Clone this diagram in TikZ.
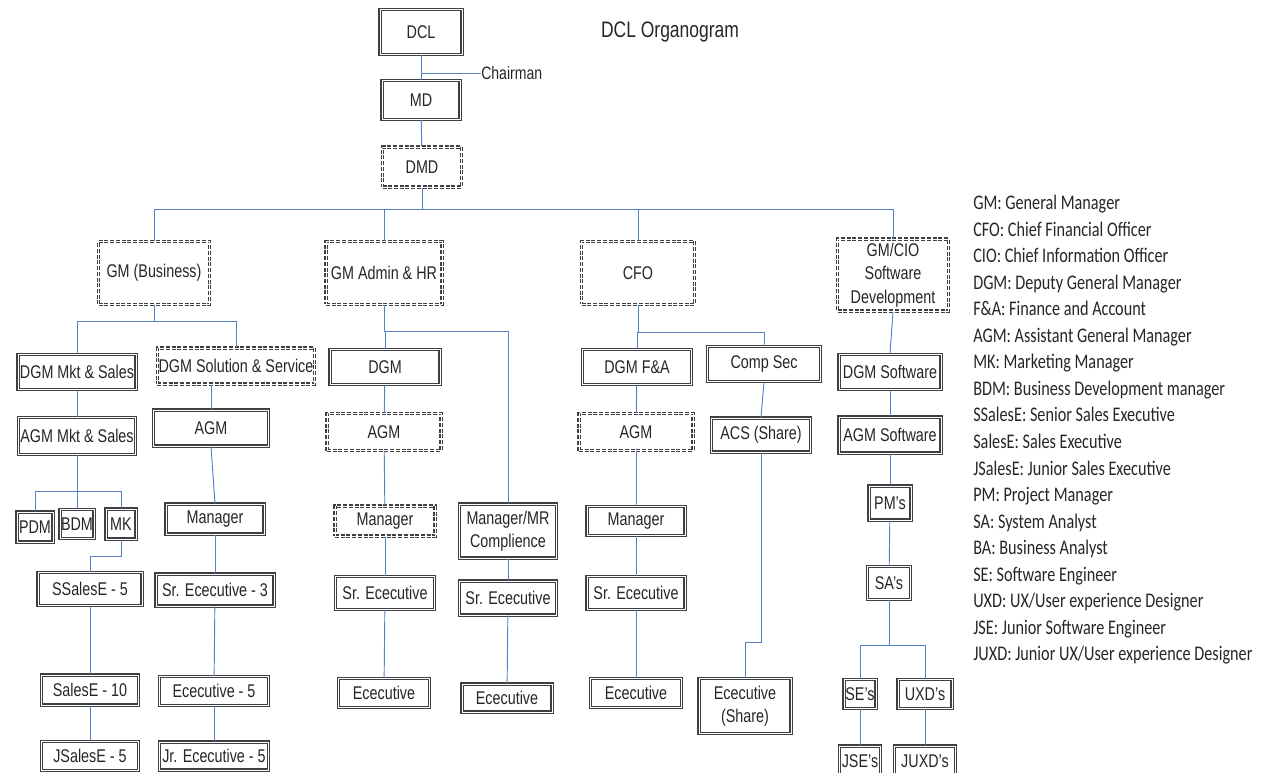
\documentclass[tikz,border=0pt]{standalone}
\usepackage{fontspec}
\setmainfont{Liberation Sans}
\newfontfamily\boxfont[FakeStretch=0.78]{Liberation Sans}
\newfontfamily\notefont[FakeStretch=0.78]{Carlito}
\definecolor{linkblue}{RGB}{84,128,200}
\begin{document}
\begin{tikzpicture}[x=0.75pt,y=-0.75pt,
  sbox/.style={draw=black!75,line width=1.05pt,double=white,double distance=0.35pt,fill=white,
    font=\boxfont\fontsize{13.8}{17.5}\selectfont,text=black!85,align=center,inner sep=1pt},
  dbox/.style={sbox,dash pattern=on 3pt off 1.3pt},
  sz/.style 2 args={minimum width=#1*0.75pt,minimum height=#2*0.75pt},
  link/.style={draw=linkblue,line width=0.7pt}]
\useasboundingbox (0,0) rectangle (1269,773);
\clip (0,0) rectangle (1269,773);
% top
\node [font=\boxfont\fontsize{16.8}{20}\selectfont,text=black!85,name=title] at (670,32){DCL Organogram};
\node [sbox,sz={82}{45},name=dcl] at (421,32){DCL};
\node [sbox,sz={78}{39},name=md] at (421,100){MD};
\node [dbox,sz={79}{40},name=dmd] at (422,167){DMD};
\node [font=\boxfont\fontsize{13.5}{16}\selectfont,text=black!85,anchor=west,inner sep=0pt,name=chair] at (481,73){Chairman};
% heads
\node [dbox,sz={111}{63},name=gmb] at (154,273){GM (Business)};
\node [dbox,sz={116}{63},name=gmadm] at (384,273){GM Admin \& HR};
\node [dbox,sz={113}{63},name=cfo] at (638,273){CFO};
\node [dbox,sz={111}{72},name=gmcio] at (893,275){GM/CIO\\Software\\Development};
% business
\node [sbox,sz={118}{35},name=dgmmkt] at (77,372){DGM Mkt \& Sales};
\node [dbox,sz={157}{36},name=dss] at (236,366){DGM Solution \& Service};
\node [sbox,sz={117}{37},name=agmmkt] at (77,436){AGM Mkt \& Sales};
\node [sbox,sz={115}{36},name=agm1] at (211,428){AGM};
\node [sbox,sz={36}{30},inner sep=0pt,name=pdm] at (35,527){PDM};
\node [sbox,sz={34}{29},inner sep=0pt,name=bdm] at (77,524){BDM};
\node [sbox,sz={30}{30},inner sep=0pt,name=mk] at (121,524){MK};
\node [sbox,sz={104}{33},name=ssales] at (90,589){SSalesE - 5};
\node [sbox,sz={97}{30},name=sales] at (90,690){SalesE - 10};
\node [sbox,sz={97}{29},name=jsales] at (90,756){JSalesE - 5};
\node [sbox,sz={98}{30},name=mgr1] at (215,519){Manager};
\node [sbox,sz={118}{32},name=sr1] at (215,590){Sr. Ececutive - 3};
\node [sbox,sz={109}{29},name=ex1] at (214,691){Ececutive - 5};
\node [sbox,sz={109}{28},name=jr1] at (214,756){Jr. Ececutive - 5};
% admin and hr
\node [sbox,sz={110}{35},name=dgm2] at (385,367){DGM};
\node [dbox,sz={114}{37},name=agm2] at (384,432){AGM};
\node [dbox,sz={100}{30},name=mgr2] at (385,521){Manager};
\node [sbox,sz={99}{33},name=sr2] at (385,593){Sr. Ececutive};
\node [sbox,sz={91}{29},name=ex2] at (384,693){Ececutive};
\node [sbox,sz={97}{54},name=mgrmr] at (508,531){Manager/MR\\Complience};
\node [sbox,sz={97}{34},name=sr3] at (508,598){Sr. Ececutive};
\node [sbox,sz={90}{28},name=ex3] at (507,698){Ececutive};
% finance
\node [sbox,sz={109}{35},name=dgmfa] at (637,367){DGM F\&A};
\node [sbox,sz={113}{35},name=comp] at (764,364){Comp Sec};
\node [dbox,sz={114}{37},name=agm3] at (636,432){AGM};
\node [sbox,sz={99}{34},name=acs] at (761,435){ACS (Share)};
\node [sbox,sz={98}{29},name=mgr3] at (636,521){Manager};
\node [sbox,sz={98}{33},name=sr4] at (636,593){Sr. Ececutive};
\node [sbox,sz={91}{29},name=ex4] at (636,693){Ececutive};
\node [sbox,sz={92}{55},name=exsh] at (745,706){Ececutive\\(Share)};
% software
\node [sbox,sz={102}{35},name=dgmsw] at (890,372){DGM Software};
\node [sbox,sz={102}{36},name=agmsw] at (890,435){AGM Software};
\node [sbox,sz={42}{34},inner sep=0pt,name=pm] at (890,503){PM’s};
\node [sbox,sz={43}{33},inner sep=0pt,name=sa] at (889,583){SA’s};
\node [sbox,sz={32}{29},inner sep=0pt,name=se] at (860,694){SE’s};
\node [sbox,sz={54}{29},inner sep=0pt,name=uxd] at (925,694){UXD’s};
\node [sbox,sz={41}{30},inner sep=0pt,name=jse] at (860,761){JSE’s};
\node [sbox,sz={61}{30},inner sep=0pt,name=juxd] at (925,761){JUXD’s};
% legend
\node [font=\notefont\fontsize{15.6}{19.9}\selectfont,text=black!85,align=left,anchor=north west,inner sep=0pt,name=legend] at (973,195){GM: General Manager\\CFO: Chief Financial Officer\\CIO: Chief Information Officer\\DGM: Deputy General Manager\\F\&A: Finance and Account\\AGM: Assistant General Manager\\MK: Marketing Manager\\BDM: Business Development manager\\SSalesE: Senior Sales Executive\\SalesE: Sales Executive\\JSalesE: Junior Sales Executive\\PM: Project Manager\\SA: System Analyst\\BA: Business Analyst\\SE: Software Engineer\\UXD: UX/User experience Designer\\JSE: Junior Software Engineer\\JUXD: Junior UX/User experience Designer};
% links
\draw[link] (dcl)--(md);
\draw[link] (dcl.south)|-(chair.west);
\draw[link] (md)--(dmd);
\draw[link] (dmd.south)--++(0,22)-|(gmb.north);
\draw[link] (dmd.south)--++(0,22)-|(gmadm.north);
\draw[link] (dmd.south)--++(0,22)-|(cfo.north);
\draw[link] (dmd.south)--++(0,22)-|(gmcio.north);
\draw[link] (gmb.south)--++(0,16)-|(dgmmkt.north);
\draw[link] (gmb.south)--++(0,16)-|(dss.north);
\draw[link] (dgmmkt)--(agmmkt);
\draw[link] (agmmkt.south)--++(0,36)-|(pdm.north);
\draw[link] (agmmkt)--(bdm);
\draw[link] (agmmkt.south)--++(0,36)-|(mk.north);
\draw[link] (mk.south)--++(0,17)-|(ssales.north);
\draw[link] (ssales)--(sales);
\draw[link] (sales)--(jsales);
\draw[link] (agm1.north)--(agm1.north|-dss.south);
\draw[link] (agm1.south)--(mgr1.north);
\draw[link] (mgr1)--(sr1);
\draw[link] (sr1)--(ex1);
\draw[link] (ex1)--(jr1);
\draw[link] (gmadm.south)--++(0,26)-|(dgm2.north);
\draw[link] (gmadm.south)--++(0,26)-|(mgrmr.north);
\draw[link] (dgm2)--(agm2);
\draw[link] (agm2)--(mgr2);
\draw[link] (mgr2)--(sr2);
\draw[link] (sr2)--(ex2);
\draw[link] (mgrmr)--(sr3);
\draw[link] (sr3)--(ex3);
\draw[link] (cfo.south)--++(0,27)-|(dgmfa.north);
\draw[link] (cfo.south)--++(0,27)-|(comp.north);
\draw[link] (dgmfa)--(agm3);
\draw[link] (agm3)--(mgr3);
\draw[link] (mgr3)--(sr4);
\draw[link] (sr4)--(ex4);
\draw[link] (comp.south)--(acs.north);
\draw[link] (acs.south)--++(0,190)-|(exsh.north);
\draw[link] (gmcio.south)--(dgmsw.north);
\draw[link] (dgmsw)--(agmsw);
\draw[link] (agmsw)--(pm);
\draw[link] (pm)--(sa);
\draw[link] (sa.south)--++(0,45)-|(se.north);
\draw[link] (sa.south)--++(0,45)-|(uxd.north);
\draw[link] (se)--(jse);
\draw[link] (uxd)--(juxd);
\end{tikzpicture}
\end{document}
